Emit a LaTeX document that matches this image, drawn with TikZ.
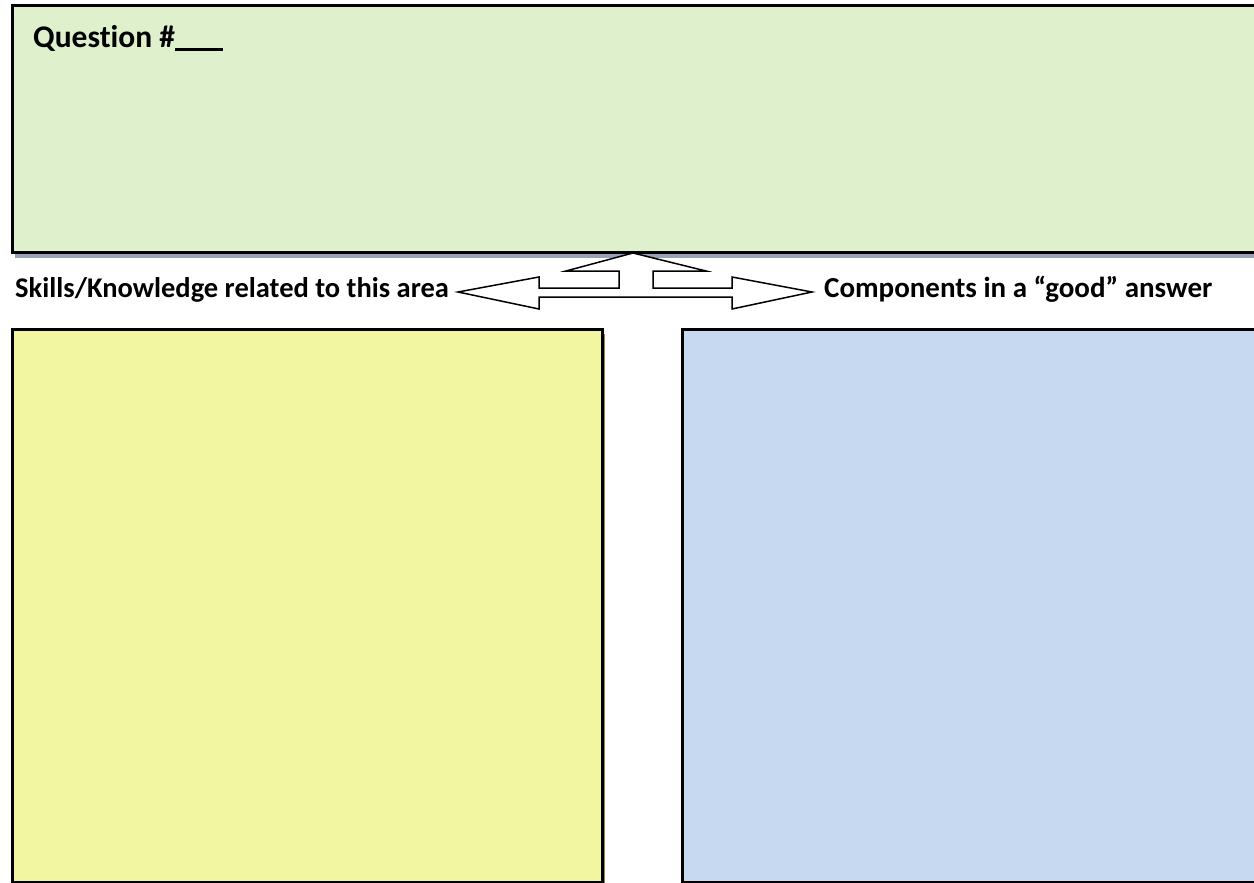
\documentclass[tikz,border=0pt]{standalone}
\usepackage{fontspec}
\setmainfont{Carlito}[Ligatures=NoCommon]
\definecolor{topfill}{HTML}{DFF0CC}
\definecolor{yelfill}{HTML}{F2F6A0}
\definecolor{bluefill}{HTML}{C6D9F0}
\definecolor{topshadow}{HTML}{95A3B6}
\definecolor{yelshadow}{HTML}{A07A5C}
\begin{document}
\begin{tikzpicture}[x=1pt,y=-1pt,
  panel/.style={draw=black,line width=3pt,inner sep=0pt,outer sep=0pt,anchor=north west},
  lbl/.style={font=\bfseries\fontsize{29}{33}\selectfont,inner sep=0pt,anchor=base west},
  arrowshape/.style={draw=black,fill=white,line width=1.5pt,line join=miter}]
\useasboundingbox (0,0) rectangle (1254,883);
\clip (0,0) rectangle (1254,883);
\fill[white] (0,0) rectangle (1254,883);
% shadows
\fill[topshadow] (15,11) rectangle (1280,258);
\fill[yelshadow] (16,334) rectangle (605,890);
% panels
\node[panel,fill=topfill,minimum width=1260pt,minimum height=246pt] (q) at (12,6) {};
\node[panel,fill=yelfill,minimum width=590pt,minimum height=553pt] (skills) at (12,329) {};
\node[panel,fill=bluefill,minimum width=590pt,minimum height=553pt] (comp) at (682,329) {};
% texts
\node[lbl,font=\bfseries\fontsize{31.5}{35}\selectfont] (qt) at (33,48) {Question \#\rule[-3pt]{48pt}{2.5pt}};
\node[lbl,font=\bfseries\fontsize{28.5}{33}\selectfont] (lt) at (15,297) {Skills/Knowledge related to this area};
\node[lbl] (rt) at (824,297) {Components in a “good” answer};
% three-way arrow
\draw[arrowshape] (633,253) -- (706,271) -- (653,271) -- (653,288) -- (732,288) -- (732,277)
  -- (812,292) -- (732,309) -- (732,297) -- (539,297) -- (539,309) -- (458,292)
  -- (539,277) -- (539,288) -- (619,288) -- (619,271) -- (566,271) -- cycle;
\end{tikzpicture}
\end{document}
